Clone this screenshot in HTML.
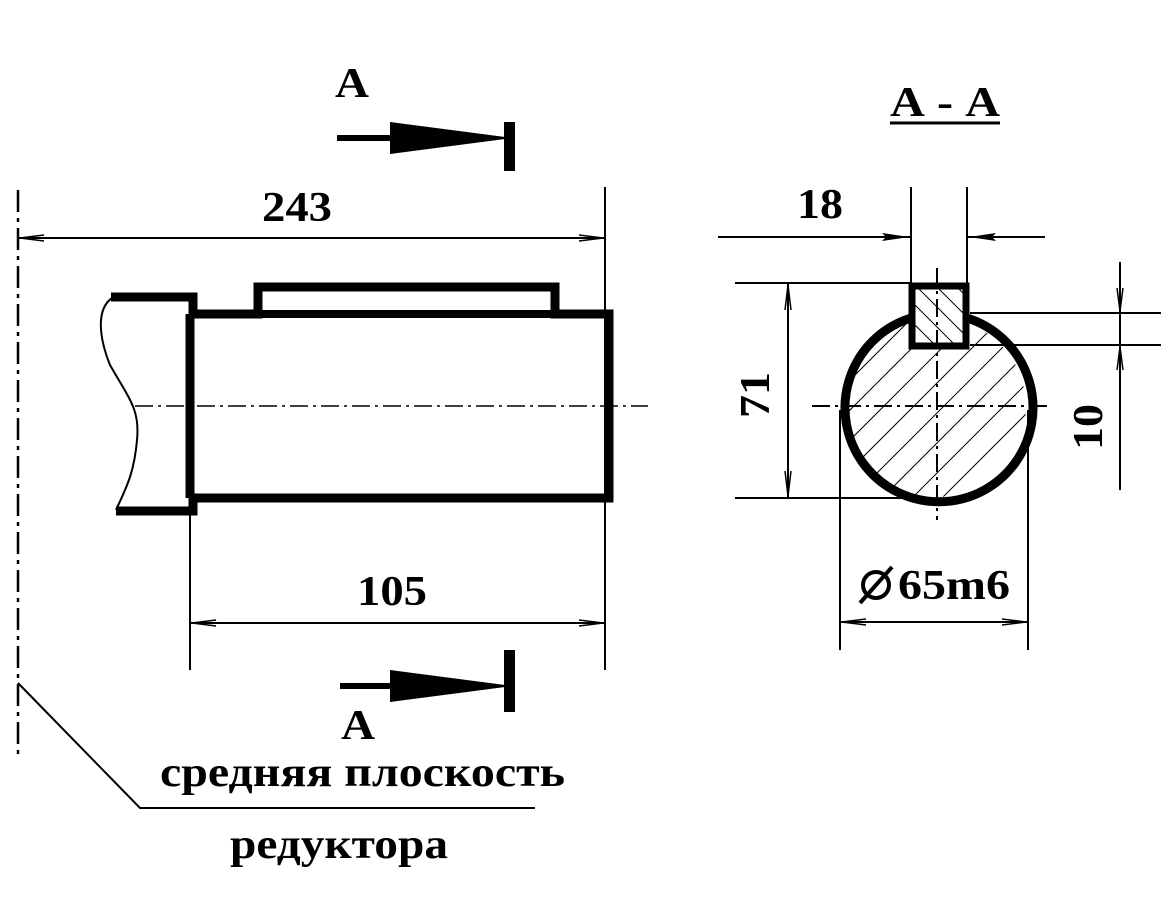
<!DOCTYPE html>
<html><head><meta charset="utf-8"><style>
html,body{margin:0;padding:0;background:#fff;}
svg{display:block}
text{font-family:"Liberation Serif","DejaVu Serif",serif;font-weight:bold;fill:#000}
</style></head><body>
<svg width="1161" height="900" viewBox="0 0 1161 900" xmlns="http://www.w3.org/2000/svg">
<defs>
<clipPath id="cc"><circle cx="936" cy="407" r="90"/></clipPath>
<clipPath id="kc"><rect x="913" y="286" width="51" height="58"/></clipPath>
</defs>
<line x1="18" y1="190" x2="18" y2="758" stroke="#000" stroke-width="2.5" stroke-dasharray="22,6,4,6"/>
<line x1="18" y1="238" x2="605" y2="238" stroke="#000" stroke-width="2"/>
<path d="M20 238 L44 235 M20 238 L44 241 M603 238 L579 235 M603 238 L579 241" stroke="#000" stroke-width="1.5"/>
<line x1="605" y1="187" x2="605" y2="670" stroke="#000" stroke-width="2"/>
<text x="262" y="221" font-size="42" textLength="70" lengthAdjust="spacingAndGlyphs">243</text>
<g stroke="#000" stroke-width="9" fill="none" stroke-linejoin="miter">
<path d="M111 297 H193 V314 H258 V287 H555 V314 H609 V498 H190"/>
<line x1="190" y1="314" x2="190" y2="498"/>
<path d="M116 511 H193 V498"/>
</g>
<line x1="190" y1="314" x2="609" y2="314" stroke="#000" stroke-width="8"/>
<path d="M112 298 C95 310 100 340 110 365 C130 400 140 410 137 440 C134 475 125 490 116 510" stroke="#000" stroke-width="2" fill="none"/>
<line x1="135" y1="406" x2="648" y2="406" stroke="#000" stroke-width="1.5" stroke-dasharray="18,5,3,5"/>
<line x1="190" y1="500" x2="190" y2="670" stroke="#000" stroke-width="2"/>
<line x1="190" y1="623" x2="605" y2="623" stroke="#000" stroke-width="2"/>
<path d="M192 623 L216 620 M192 623 L216 626 M603 623 L579 620 M603 623 L579 626" stroke="#000" stroke-width="1.5"/>
<text x="357" y="605" font-size="42" textLength="70" lengthAdjust="spacingAndGlyphs">105</text>
<text x="335" y="97" font-size="42" textLength="34" lengthAdjust="spacingAndGlyphs">A</text>
<line x1="337" y1="138" x2="395" y2="138" stroke="#000" stroke-width="6"/>
<polygon points="390,122 505,137 505,139 390,154" fill="#000"/>
<rect x="504" y="122" width="11" height="49" fill="#000"/>
<line x1="340" y1="686" x2="395" y2="686" stroke="#000" stroke-width="6"/>
<polygon points="390,670 505,685 505,687 390,702" fill="#000"/>
<rect x="504" y="650" width="11" height="62" fill="#000"/>
<text x="341" y="739" font-size="42" textLength="34" lengthAdjust="spacingAndGlyphs">A</text>
<path d="M18 683 L140 808 H535" stroke="#000" stroke-width="2" fill="none"/>
<text x="160" y="786" font-size="42" textLength="405" lengthAdjust="spacingAndGlyphs">средняя плоскость</text>
<text x="230" y="858" font-size="42" textLength="218" lengthAdjust="spacingAndGlyphs">редуктора</text>
<text x="890" y="116" font-size="42" textLength="110" lengthAdjust="spacingAndGlyphs">А - А</text>
<line x1="890" y1="123" x2="1000" y2="123" stroke="#000" stroke-width="3"/>
<g clip-path="url(#cc)" stroke="#000" stroke-width="1">
<path d="M780 480 L1000 260 M780 510 L1010 280 M790 530 L1030 290 M800 550 L1040 310 M810 570 L1060 320 M820 590 L1080 330 M780 450 L990 240 M780 420 L980 220 M780 390 L970 200 M780 360 L960 180 M830 610 L1100 340"/>
</g>
<rect x="913" y="286" width="51" height="58" fill="#fff"/>
<g clip-path="url(#kc)" stroke="#000" stroke-width="1">
<path d="M900 270 L980 350 M880 270 L960 350 M920 270 L1000 350 M940 270 L1020 350 M860 270 L940 350 M960 270 L1040 350"/>
</g>
<path d="M911 318 A94 94 0 1 0 967 318" stroke="#000" stroke-width="9" fill="none"/>
<rect x="912" y="286" width="54" height="60" stroke="#000" stroke-width="7" fill="none"/>
<line x1="937" y1="268" x2="937" y2="520" stroke="#000" stroke-width="2" stroke-dasharray="18,5,3,5"/>
<line x1="812" y1="406" x2="1048" y2="406" stroke="#000" stroke-width="2" stroke-dasharray="18,5,3,5"/>
<line x1="911" y1="187" x2="911" y2="283" stroke="#000" stroke-width="2"/>
<line x1="967" y1="187" x2="967" y2="283" stroke="#000" stroke-width="2"/>
<line x1="718" y1="237" x2="911" y2="237" stroke="#000" stroke-width="2"/>
<line x1="967" y1="237" x2="1045" y2="237" stroke="#000" stroke-width="2"/>
<path d="M909 237 L882 233 L886 237 L882 241 Z M969 237 L996 233 L992 237 L996 241 Z" fill="#000"/>
<text x="797" y="218" font-size="42" textLength="46" lengthAdjust="spacingAndGlyphs">18</text>
<line x1="735" y1="283" x2="910" y2="283" stroke="#000" stroke-width="2"/>
<line x1="735" y1="498" x2="905" y2="498" stroke="#000" stroke-width="2"/>
<line x1="788" y1="283" x2="788" y2="498" stroke="#000" stroke-width="2"/>
<path d="M788 285 L785 310 M788 285 L791 310 M788 496 L785 471 M788 496 L791 471" stroke="#000" stroke-width="1.5"/>
<text x="0" y="0" font-size="42" text-anchor="middle" textLength="46" lengthAdjust="spacingAndGlyphs" transform="translate(769,395) rotate(-90)">71</text>
<line x1="970" y1="313" x2="1161" y2="313" stroke="#000" stroke-width="2"/>
<line x1="970" y1="345" x2="1161" y2="345" stroke="#000" stroke-width="2"/>
<line x1="1120" y1="262" x2="1120" y2="490" stroke="#000" stroke-width="2"/>
<path d="M1120 311 L1117 288 M1120 311 L1123 288 M1120 347 L1117 370 M1120 347 L1123 370" stroke="#000" stroke-width="1.5"/>
<text x="0" y="0" font-size="42" text-anchor="middle" textLength="46" lengthAdjust="spacingAndGlyphs" transform="translate(1102,427) rotate(-90)">10</text>
<line x1="840" y1="410" x2="840" y2="650" stroke="#000" stroke-width="2"/>
<line x1="1028" y1="410" x2="1028" y2="650" stroke="#000" stroke-width="2"/>
<line x1="840" y1="622" x2="1028" y2="622" stroke="#000" stroke-width="2"/>
<path d="M842 622 L866 619 M842 622 L866 625 M1026 622 L1002 619 M1026 622 L1002 625" stroke="#000" stroke-width="1.5"/>
<circle cx="876" cy="585" r="13" stroke="#000" stroke-width="4" fill="none"/>
<line x1="860" y1="603" x2="892" y2="567" stroke="#000" stroke-width="4"/>
<text x="898" y="599" font-size="42" textLength="112" lengthAdjust="spacingAndGlyphs">65m6</text>
</svg>
</body></html>
